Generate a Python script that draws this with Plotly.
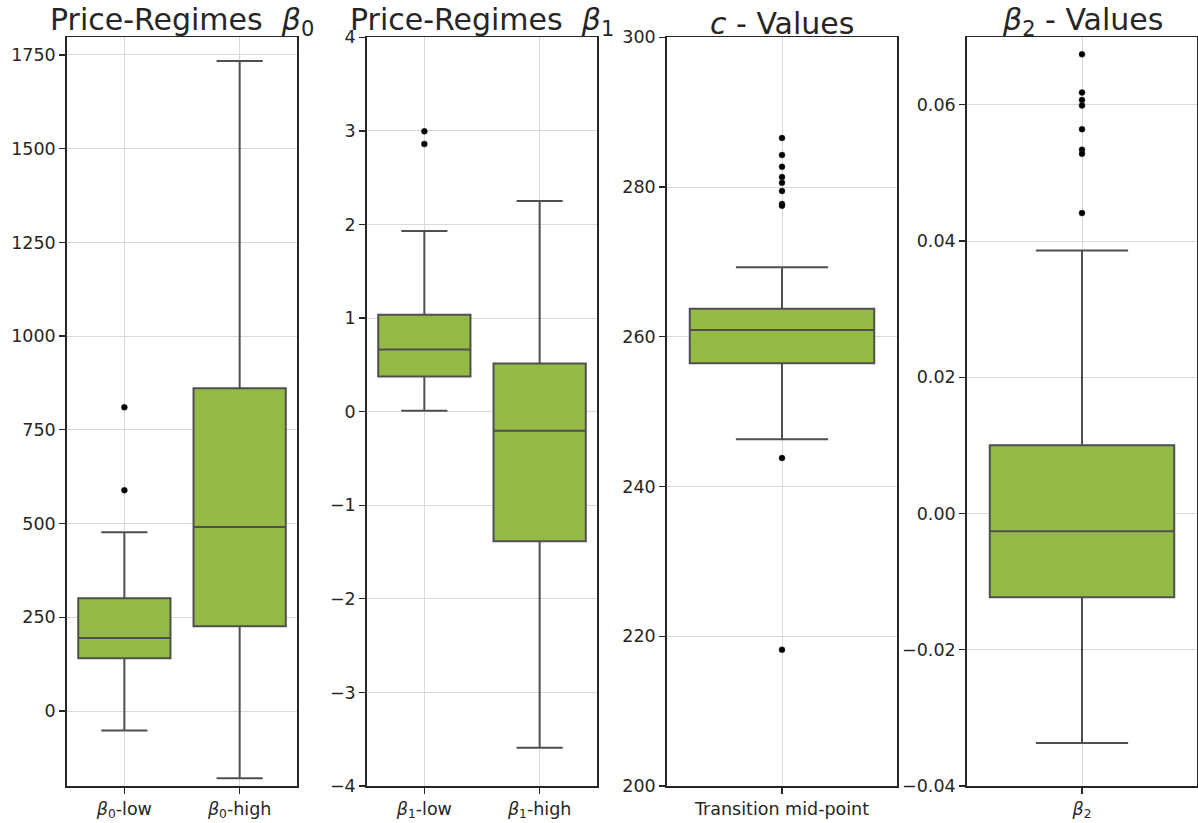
import plotly.graph_objects as go

# ---------------- data ----------------
b0_cats = ["b0-low", "b0-high"]
b0_q1 = [141, 226]
b0_median = [195, 491]
b0_q3 = [301, 861]
b0_lower = [-52, -179]
b0_upper = [477, 1734]
b0_out_cat = ["b0-low", "b0-low"]
b0_out_val = [810, 589]

b1_cats = ["b1-low", "b1-high"]
b1_q1 = [0.375, -1.385]
b1_median = [0.665, -0.205]
b1_q3 = [1.035, 0.515]
b1_lower = [0.01, -3.59]
b1_upper = [1.93, 2.25]
b1_out_cat = ["b1-low", "b1-low"]
b1_out_val = [2.995, 2.86]

c_cats = ["Transition mid-point"]
c_q1 = [256.45]
c_median = [260.9]
c_q3 = [263.75]
c_lower = [246.3]
c_upper = [269.3]
c_out_val = [286.55, 284.27, 282.7, 281.33, 280.57, 279.47, 277.73, 277.5, 243.8, 218.2]

b2_cats = ["b2"]
b2_q1 = [-0.0123]
b2_median = [-0.0026]
b2_q3 = [0.0100]
b2_lower = [-0.0337]
b2_upper = [0.0386]
b2_out_val = [0.0674, 0.0618, 0.0607, 0.0599, 0.0564, 0.0534, 0.0528, 0.0441]

# tick labels
b0_ticktext = ["<i>β</i><sub>0</sub>-low", "<i>β</i><sub>0</sub>-high"]
b1_ticktext = ["<i>β</i><sub>1</sub>-low", "<i>β</i><sub>1</sub>-high"]
c_ticktext = ["Transition mid-point"]
b2_ticktext = ["<i>β</i><sub>2</sub>"]

y1_ticks = [0, 250, 500, 750, 1000, 1250, 1500, 1750]
y1_text = ["0", "250", "500", "750", "1000", "1250", "1500", "1750"]
y2_ticks = [-4, -3, -2, -1, 0, 1, 2, 3, 4]
y2_text = ["−4", "−3", "−2", "−1", "0", "1", "2", "3", "4"]
y3_ticks = [200, 220, 240, 260, 280, 300]
y3_text = ["200", "220", "240", "260", "280", "300"]
y4_ticks = [-0.04, -0.02, 0.0, 0.02, 0.04, 0.06]
y4_text = ["−0.04", "−0.02", "0.00", "0.02", "0.04", "0.06"]

titles = ["Price-Regimes\u00a0\u00a0<i>β</i><sub>0</sub>",
          "Price-Regimes\u00a0\u00a0<i>β</i><sub>1</sub>",
          "<i>c</i> - Values",
          "<i>β</i><sub>2</sub> - Values"]

# ---------------- styling ----------------
W, H = 1198, 823
FILL = "#93BA45"
EDGE = "#4f4f4f"
AX = "#262626"
GRID = "#d9d9d9"
FONT = "DejaVu Sans"

x_px = [(66.7, 297.3), (366.7, 597.3), (666.7, 897.3), (966.7, 1197.3)]
y_top_px, y_bot_px = 37.3, 786.0
ydom = [1 - y_bot_px / H, 1 - y_top_px / H]

fig = go.Figure()

panels = [
    (b0_cats, b0_q1, b0_median, b0_q3, b0_lower, b0_upper, b0_out_cat, b0_out_val),
    (b1_cats, b1_q1, b1_median, b1_q3, b1_lower, b1_upper, b1_out_cat, b1_out_val),
    (c_cats, c_q1, c_median, c_q3, c_lower, c_upper, c_cats * len(c_out_val), c_out_val),
    (b2_cats, b2_q1, b2_median, b2_q3, b2_lower, b2_upper, b2_cats * len(b2_out_val), b2_out_val),
]

for i, (cats, q1, med, q3, lo, hi, oc, ov) in enumerate(panels):
    xa = "x" if i == 0 else f"x{i+1}"
    ya = "y" if i == 0 else f"y{i+1}"
    fig.add_trace(go.Box(
        x=cats, q1=q1, median=med, q3=q3, lowerfence=lo, upperfence=hi,
        fillcolor=FILL, line=dict(color=EDGE, width=2), width=0.8,
        whiskerwidth=0.5, boxpoints=False, showlegend=False,
        xaxis=xa, yaxis=ya, hoverinfo="skip"))
    fig.add_trace(go.Scatter(
        x=oc, y=ov, mode="markers",
        marker=dict(color="black", size=6, line=dict(color="#333333", width=0.5)),
        showlegend=False, xaxis=xa, yaxis=ya, hoverinfo="skip"))

yranges = [[-200, 1797], [-4, 4], [200, 300], [-0.04, 0.0699]]
yticks = [(y1_ticks, y1_text), (y2_ticks, y2_text), (y3_ticks, y3_text), (y4_ticks, y4_text)]
xticks = [(b0_cats, b0_ticktext), (b1_cats, b1_ticktext), (c_cats, c_ticktext), (b2_cats, b2_ticktext)]

layout = dict(
    width=W, height=H,
    margin=dict(l=0, r=0, t=0, b=0, autoexpand=False),
    paper_bgcolor="white", plot_bgcolor="white",
    font=dict(family=FONT, color=AX, size=17),
    showlegend=False,
)

annotations = []
for i in range(4):
    sx = "" if i == 0 else str(i + 1)
    x0, x1 = x_px[i]
    n = len(xticks[i][0])
    layout["xaxis" + sx] = dict(
        domain=[x0 / W, min(x1 / W, 1.0)], anchor="y" + sx,
        type="category", range=[-0.5, n - 0.5], automargin=False,
        tickvals=xticks[i][0], ticktext=xticks[i][1],
        showgrid=True, gridcolor=GRID, gridwidth=1,
        showline=True, linecolor=AX, linewidth=1.5, mirror=True,
        ticks="outside", ticklen=6, tickwidth=1.3, tickcolor=AX,
        tickfont=dict(family=FONT, size=17.5, color=AX),
        zeroline=False, fixedrange=True,
    )
    layout["yaxis" + sx] = dict(
        domain=ydom, anchor="x" + sx, range=yranges[i], automargin=False,
        tickmode="array", tickvals=yticks[i][0], ticktext=yticks[i][1],
        showgrid=True, gridcolor=GRID, gridwidth=1,
        showline=True, linecolor=AX, linewidth=1.5, mirror=True,
        ticks="outside", ticklen=6, tickwidth=1.3, tickcolor=AX,
        tickfont=dict(family=FONT, size=17.5, color=AX),
        zeroline=False, fixedrange=True,
    )
    annotations.append(dict(
        text=titles[i], xref="paper", yref="paper",
        x=(x0 + x1) / 2 / W, y=1 - y_top_px / H,
        xanchor="center", yanchor="bottom", showarrow=False,
        font=dict(family=FONT, size=30, color=AX), yshift=-6,
    ))

layout["annotations"] = annotations
fig.update_layout(**layout)

fig.write_html(
    "out.html",
    config={"displayModeBar": False, "staticPlot": True},
    post_script="document.body.style.margin='0';document.body.style.overflow='hidden';",
)
